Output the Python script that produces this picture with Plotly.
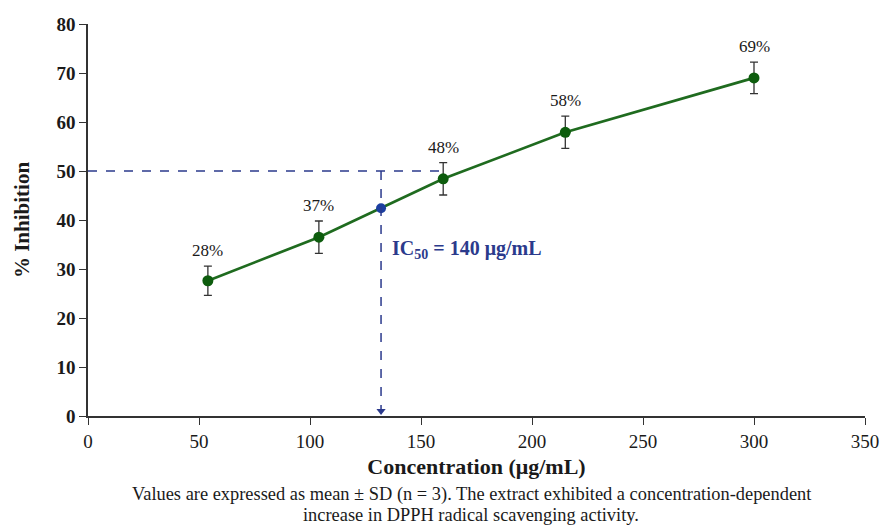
import plotly.graph_objects as go

# Data
concentration = [54, 104, 160, 215, 300]
inhibition = [27.6, 36.5, 48.4, 57.9, 69.0]
sd = [3.0, 3.3, 3.3, 3.3, 3.2]
point_labels = ["28%", "37%", "48%", "58%", "69%"]

ic50_x = 132
ic50_y = 42.4
ic50_level = 50
ic50_text = "IC<sub>50</sub> = 140 μg/mL"

x_ticks = [0, 50, 100, 150, 200, 250, 300, 350]
y_ticks = [0, 10, 20, 30, 40, 50, 60, 70, 80]

caption_lines = [
    "Values are expressed as mean ± SD (n = 3). The extract exhibited a concentration-dependent",
    "increase in DPPH radical scavenging activity.",
]

SERIF = "Liberation Serif, Times New Roman, serif"
GREEN_LINE = "#1f6b1f"
GREEN_MARK = "#0d5c0d"
NAVY = "#2b3a8c"
BLUE_PT = "#1c3fa0"

fig = go.Figure()

# Reference dashed lines
fig.add_shape(type="line", xref="x", yref="y", x0=0, x1=concentration[2], y0=ic50_level, y1=ic50_level,
              line=dict(color=NAVY, width=1.5, dash="dash"))
fig.add_shape(type="line", xref="x", yref="y", x0=ic50_x, x1=ic50_x, y0=ic50_level, y1=1.2,
              line=dict(color=NAVY, width=1.5, dash="dash"))

# Main series
fig.add_trace(go.Scatter(
    x=concentration, y=inhibition, mode="lines+markers",
    line=dict(color=GREEN_LINE, width=2.7),
    marker=dict(color=GREEN_MARK, size=11),
    error_y=dict(type="data", array=sd, visible=True, color="#333333", thickness=1.3, width=4),
    showlegend=False, hoverinfo="skip",
))

# IC50 point
fig.add_trace(go.Scatter(
    x=[ic50_x], y=[ic50_y], mode="markers",
    marker=dict(color=BLUE_PT, size=10),
    showlegend=False, hoverinfo="skip",
))

# Arrow head at bottom of vertical dashed line
fig.add_trace(go.Scatter(
    x=[ic50_x], y=[1.0], mode="markers",
    marker=dict(color=NAVY, size=8, symbol="triangle-down"),
    showlegend=False, hoverinfo="skip", cliponaxis=False,
))

# Percent labels
for xv, yv, e, lab in zip(concentration, inhibition, sd, point_labels):
    fig.add_annotation(x=xv, y=yv + e, text=lab, showarrow=False, yanchor="bottom", yshift=4,
                       font=dict(family=SERIF, size=17, color="#1a1a1a"))

# IC50 label
fig.add_annotation(x=ic50_x, y=34, text=ic50_text, showarrow=False, xanchor="left", xshift=9,
                   font=dict(family=SERIF, size=20, color=NAVY, weight="bold"))

# Caption (two lines)
for yy, line in zip([-0.201, -0.252], caption_lines):
    fig.add_annotation(xref="paper", yref="paper", x=0.493, y=yy, xanchor="center", yanchor="middle",
                       text=line, showarrow=False,
                       font=dict(family=SERIF, size=18.4, color="#1a1a1a"))

fig.update_layout(
    width=883, height=527,
    margin=dict(l=88, r=18, t=24, b=111),
    plot_bgcolor="white", paper_bgcolor="white",
    font=dict(family=SERIF, color="#1a1a1a"),
    xaxis=dict(
        range=[0, 350], tickvals=x_ticks, showgrid=False, zeroline=False, automargin=False,
        showline=True, linecolor="#333333", linewidth=1.5,
        ticks="outside", ticklen=7, tickcolor="#333333", tickwidth=1.3,
        tickfont=dict(family=SERIF, size=19, color="#1a1a1a"),
        title=dict(text="Concentration (μg/mL)", standoff=8,
                   font=dict(family=SERIF, size=22, color="#1a1a1a", weight="bold")),
    ),
    yaxis=dict(
        range=[0, 80], tickvals=y_ticks, showgrid=False, zeroline=False, automargin=False,
        showline=True, linecolor="#333333", linewidth=1.5,
        ticks="outside", ticklen=7, tickcolor="#333333", tickwidth=1.3,
        tickfont=dict(family=SERIF, size=19, color="#1a1a1a", weight="bold"),
        title=dict(text="% Inhibition", standoff=21,
                   font=dict(family=SERIF, size=21, color="#1a1a1a", weight="bold")),
    ),
)

fig.write_html(
    "out.html",
    config={"displayModeBar": False},
    post_script="document.body.style.margin='0';document.body.style.overflow='hidden';",
)
